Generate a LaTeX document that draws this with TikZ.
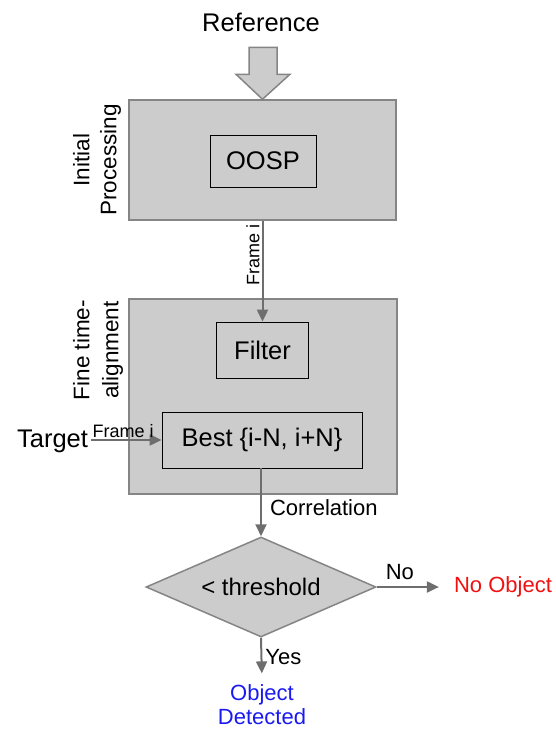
\documentclass[tikz,border=0pt]{standalone}
\usepackage{fontspec}
\setmainfont{Liberation Sans}
\usetikzlibrary{arrows.meta,shapes.geometric}
\definecolor{boxfill}{HTML}{CCCCCC}
\definecolor{boxline}{HTML}{858585}
\definecolor{arrline}{HTML}{6E6E6E}
\definecolor{noobj}{HTML}{F01010}
\definecolor{yesobj}{HTML}{1A1AF0}
\begin{document}
\begin{tikzpicture}[x=1pt,y=-1pt,
  big/.style={font=\fontsize{25.5}{30}\selectfont},
  med/.style={font=\fontsize{22}{27}\selectfont},
  small/.style={font=\fontsize{18}{20}\selectfont},
  stage/.style={draw=boxline, fill=boxfill, line width=1.5pt, inner sep=0pt},
  innerbox/.style={draw=black, line width=0.8pt, fill=boxfill, inner sep=0pt, big},
  flow/.style={draw=arrline, line width=2pt, -{Triangle[length=12pt,width=11pt]}},
]
\useasboundingbox (0,0) rectangle (555,729);
% input
\node[big] (ref) at (261,22) {Reference};
% stage 1
\node[stage, minimum width=267pt, minimum height=120pt] (s1) at (262.5,160) {};
\node[innerbox, minimum width=106pt, minimum height=52pt] (oosp) at (263,161) {OOSP};
\node[rotate=90, align=center, font=\fontsize{22.5}{27}\selectfont] (lab1) at (97,160) {Initial\\Processing};
% big arrow into stage 1
\coordinate (bigtip) at (s1.north);
\filldraw[fill=boxfill, draw=boxline, line width=1.5pt, line join=miter]
  (bigtip) -- ++(-26.5,-25) -- ++(13,0) -- ++(0,-27) -- ++(28,0) -- ++(0,27) -- ++(13,0) -- cycle;
% stage 2
\node[stage, minimum width=268pt, minimum height=195pt] (s2) at (263,396.5) {};
\node[innerbox, minimum width=92pt, minimum height=56pt] (filter) at (262.5,350) {Filter};
\node[innerbox, minimum width=200pt, minimum height=56pt] (best) at (262,440) {Best \{i-N, i+N\}};
\node[rotate=90, align=center, font=\fontsize{22.5}{29}\selectfont] (lab2) at (98,350) {Fine time-\\alignment};
% target
\node[big, anchor=base] (target) at (52.5,447) {Target};
% decision
\node[draw=boxline, fill=boxfill, line width=1.5pt, diamond, aspect=2.3,
      minimum width=230pt, minimum height=100pt, inner sep=1pt,
      font=\fontsize{24}{28}\selectfont] (th) at (261,587) {< threshold};
\node[med, text=noobj, inner sep=0pt] (no) at (503,587) {No Object};
\node[med, text=yesobj, align=center, font=\fontsize{22}{24}\selectfont] (yes) at (262,705) {Object\\Detected};
% connectors
\draw[flow] (s1.south -| filter.north) -- node[small, rotate=90, anchor=south, pos=0.34, inner sep=2pt] {Frame i} (filter.north);
\draw[flow] (target.east |- best.west) -- node[small, anchor=south, pos=0.45, inner sep=1pt] {Frame i} (best.west);
\draw[flow] (best.south -| th.north) -- node[med, anchor=west, pos=0.58, inner sep=3pt, xshift=5pt] {Correlation} (th.north);
\draw[flow, shorten >=15pt] (th.east) -- node[med, anchor=south, pos=0.3, inner sep=2pt, yshift=4pt] {No} (no.west);
\draw[flow, shorten >=8pt] (th.south) -- node[med, anchor=west, pos=0.45, inner sep=3pt] {Yes} (yes.north);
\end{tikzpicture}
\end{document}
